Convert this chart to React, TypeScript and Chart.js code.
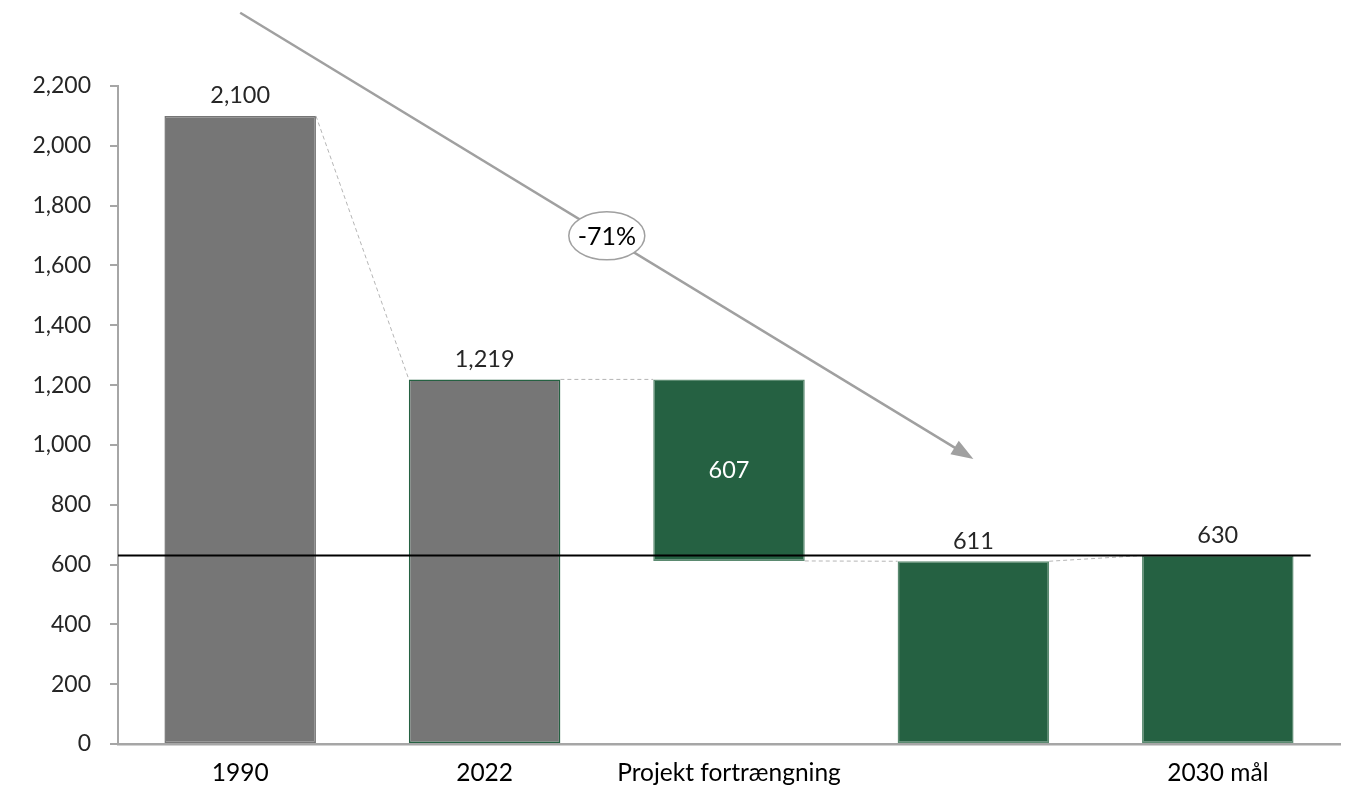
import React, { useEffect, useRef } from "react";
import { Chart, registerables } from "chart.js";

Chart.register(...registerables);

const categories = ["1990", "2022", "Projekt fortrængning", "", "2030 mål"];
const barStarts = [0, 0, 612, 0, 0];
const barEnds = [2100, 1219, 1219, 611, 630];
const barLabels = ["2,100", "1,219", "607", "611", "630"];
const barColors = ["#767676", "#767676", "#256142", "#256142", "#256142"];
const barBorderColors = ["#767676", "#256142", "#5b8a70", "#5b8a70", "#5b8a70"];
const targetValue = 630;
const targetEndIndex = 4.38;
const arrowFrom = { index: 0, value: 2445 };
const arrowTo = { index: 3, value: 953 };
const arrowLabel = "-71%";
const yMin = 0;
const yMax = 2200;
const yStep = 200;

const FONT = "Lato, 'Open Sans', sans-serif";

const overlayPlugin = {
  id: "overlay",
  afterDatasetsDraw(chart: any) {
    const ctx = chart.ctx as CanvasRenderingContext2D;
    const xs = chart.scales.x;
    const ys = chart.scales.y;
    const els = chart.getDatasetMeta(0).data as any[];
    const props = els.map((e) => e.getProps(["x", "y", "base", "width"], true));

    // dashed connectors
    ctx.save();
    ctx.setLineDash([4, 3]);
    ctx.strokeStyle = "#b5b5b5";
    ctx.lineWidth = 1;
    for (let i = 0; i < props.length - 1; i++) {
      const a = props[i];
      const b = props[i + 1];
      const fromVal = barStarts[i] > 0 ? barStarts[i] : barEnds[i];
      const toVal = barEnds[i + 1];
      ctx.beginPath();
      ctx.moveTo(a.x + a.width / 2, ys.getPixelForValue(fromVal));
      ctx.lineTo(b.x - b.width / 2, ys.getPixelForValue(toVal));
      ctx.stroke();
    }
    ctx.restore();

    // target line
    ctx.save();
    ctx.strokeStyle = "#000000";
    ctx.lineWidth = 2;
    const ty = ys.getPixelForValue(targetValue);
    ctx.beginPath();
    ctx.moveTo(chart.chartArea.left, ty);
    ctx.lineTo(xs.getPixelForValue(targetEndIndex), ty);
    ctx.stroke();
    ctx.restore();

    // data labels
    ctx.save();
    ctx.font = `23.5px ${FONT}`;
    ctx.textAlign = "center";
    ctx.textBaseline = "middle";
    props.forEach((p, i) => {
      if (barStarts[i] > 0) {
        ctx.fillStyle = "#ffffff";
        ctx.fillText(barLabels[i], p.x, (p.y + p.base) / 2);
      } else {
        ctx.fillStyle = "#262626";
        ctx.fillText(barLabels[i], p.x, p.y - 20);
      }
    });
    ctx.restore();

    // trend arrow
    const x1 = xs.getPixelForValue(arrowFrom.index);
    const y1 = ys.getPixelForValue(arrowFrom.value);
    const x2 = xs.getPixelForValue(arrowTo.index);
    const y2 = ys.getPixelForValue(arrowTo.value);
    const ang = Math.atan2(y2 - y1, x2 - x1);
    const headLen = 22;
    const headHalf = 8;
    ctx.save();
    ctx.strokeStyle = "#a0a0a0";
    ctx.fillStyle = "#a0a0a0";
    ctx.lineWidth = 2.5;
    ctx.beginPath();
    ctx.moveTo(x1, y1);
    ctx.lineTo(x2 - Math.cos(ang) * headLen * 0.8, y2 - Math.sin(ang) * headLen * 0.8);
    ctx.stroke();
    const bx = x2 - Math.cos(ang) * headLen;
    const by = y2 - Math.sin(ang) * headLen;
    ctx.beginPath();
    ctx.moveTo(x2, y2);
    ctx.lineTo(bx + Math.sin(ang) * headHalf, by - Math.cos(ang) * headHalf);
    ctx.lineTo(bx - Math.sin(ang) * headHalf, by + Math.cos(ang) * headHalf);
    ctx.closePath();
    ctx.fill();

    const mx = (x1 + x2) / 2;
    const my = (y1 + y2) / 2;
    ctx.beginPath();
    ctx.ellipse(mx, my, 38, 24, 0, 0, Math.PI * 2);
    ctx.fillStyle = "#ffffff";
    ctx.fill();
    ctx.lineWidth = 1.5;
    ctx.strokeStyle = "#a0a0a0";
    ctx.stroke();
    ctx.fillStyle = "#000000";
    ctx.font = `25px ${FONT}`;
    ctx.textAlign = "center";
    ctx.textBaseline = "middle";
    ctx.fillText(arrowLabel, mx, my + 1);
    ctx.restore();
  },
};

export default function App() {
  const canvasRef = useRef<HTMLCanvasElement | null>(null);

  useEffect(() => {
    document.body.style.margin = "0";
    const canvas = canvasRef.current;
    if (!canvas) return;
    const chart = new Chart(canvas, {
      type: "bar",
      data: {
        labels: categories,
        datasets: [
          {
            data: barStarts.map((s, i) => [s, barEnds[i]]) as any,
            backgroundColor: barColors,
            borderColor: barBorderColors,
            borderWidth: 1.5,
            borderSkipped: false,
            barPercentage: 0.62,
            categoryPercentage: 1,
          },
        ],
      },
      options: {
        responsive: false,
        animation: false,
        layout: { padding: { top: 86, right: 6, left: 0, bottom: 0 } },
        plugins: {
          legend: { display: false },
          tooltip: { enabled: false },
        },
        scales: {
          x: {
            grid: { display: false, drawTicks: false },
            border: { display: true, color: "#a6a6a6", width: 2.5 },
            ticks: {
              color: "#000000",
              font: { family: FONT, size: 24.5 },
              padding: 14,
              maxRotation: 0,
              autoSkip: false,
            },
            afterFit: (scale: any) => {
              scale.height = 50;
            },
          },
          y: {
            min: yMin,
            max: yMax,
            grid: {
              display: true,
              drawOnChartArea: false,
              drawTicks: true,
              tickLength: 8,
              color: "#a6a6a6",
              lineWidth: 2,
            },
            border: { display: true, color: "#a6a6a6", width: 2 },
            ticks: {
              stepSize: yStep,
              color: "#262626",
              font: { family: FONT, size: 23 },
              padding: 19,
              callback: (v: any) => Number(v).toLocaleString("en-US"),
            },
            afterFit: (scale: any) => {
              scale.width = 118;
            },
          },
        },
      },
      plugins: [overlayPlugin],
    });
    return () => chart.destroy();
  }, []);

  return (
    <canvas
      ref={canvasRef}
      width={1346}
      height={794}
      style={{ display: "block", width: 1346, height: 794 }}
    />
  );
}
